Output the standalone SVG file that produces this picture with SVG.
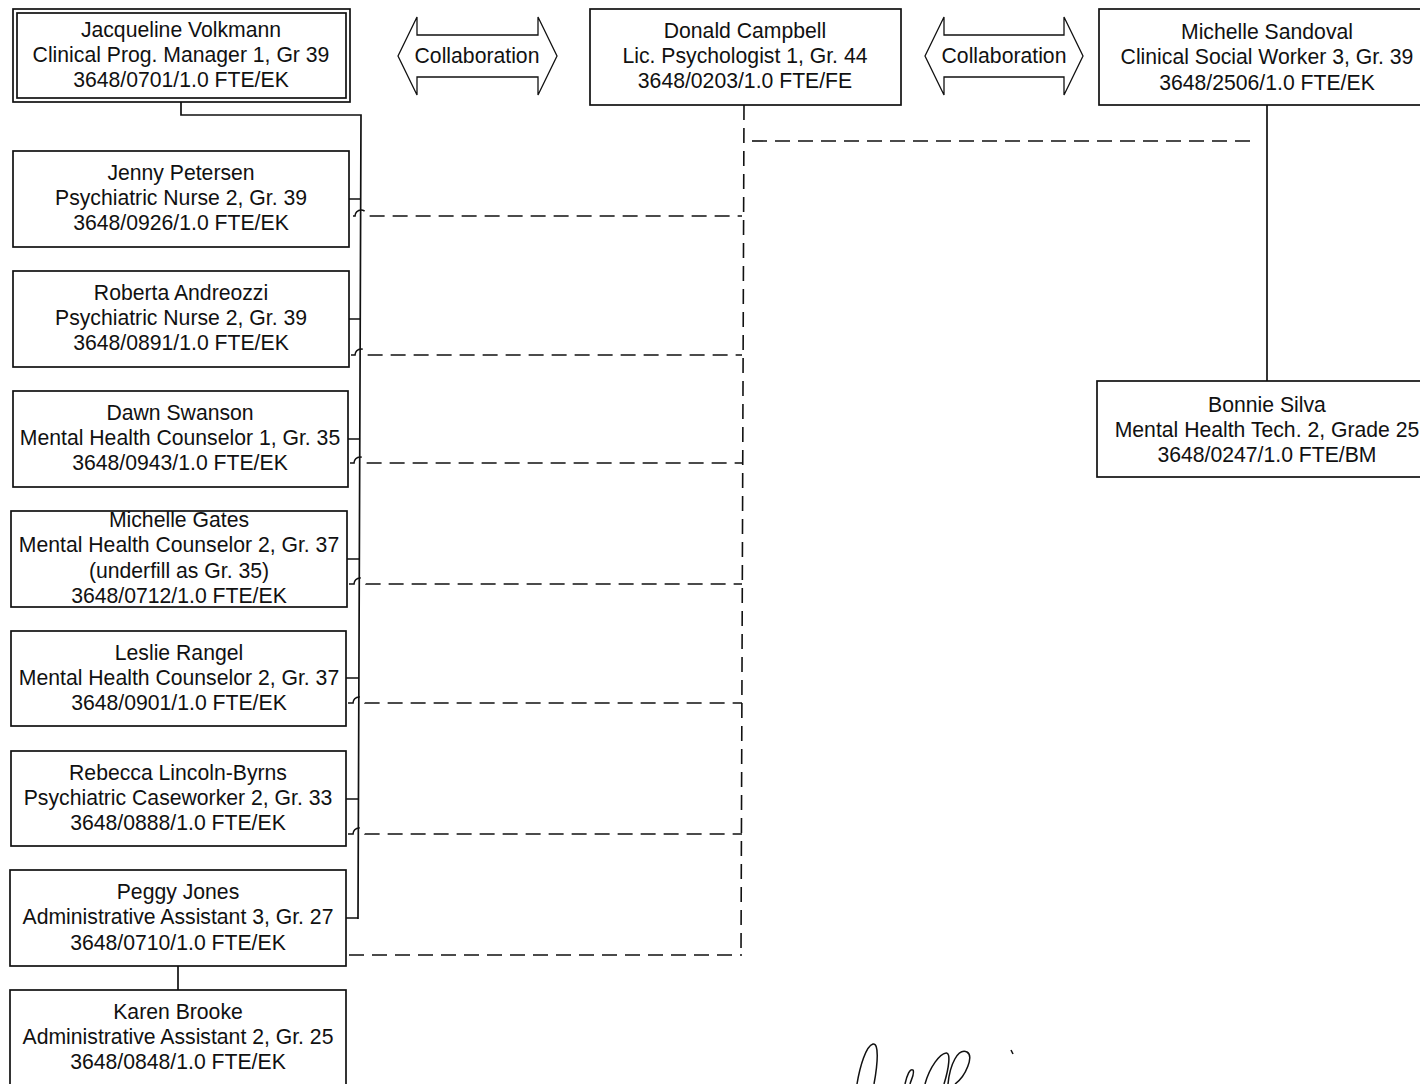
<svg xmlns="http://www.w3.org/2000/svg" width="1420" height="1084" viewBox="0 0 1420 1084">
<style>
.box{fill:#fff;stroke:#111;stroke-width:1.7}
.ln{fill:none;stroke:#111;stroke-width:1.7}
.dash{fill:none;stroke:#111;stroke-width:1.6;stroke-dasharray:15 8}
.arr{fill:#fff;stroke:#111;stroke-width:1.3}
text{font-family:"Liberation Sans",Arial,sans-serif;font-size:21.2px;text-anchor:middle;fill:#111}
.sig{fill:none;stroke:#111;stroke-width:1.5}
</style>
<rect width="1420" height="1084" fill="#fff"/>
<g id="connectors">
<path class="ln" d="M181,102 V115 H361 L358,919"/>
<path class="ln" d="M349,199 H361 M349,319 H361 M348,439 H360 M347,559 H360 M346,678 H359 M346,799 H359 M346,918 H358"/>
<path class="ln" d="M1267,105 V381"/>
<path class="ln" d="M178,966 V990"/>
<path class="dash" d="M744,105 L741,955"/>
<path class="dash" d="M752,141 H1258"/>
<path class="dash" d="M353,216 H355 A6,6 0 0 1 367,216 H742"/>
<path class="dash" d="M351,355 H355 A6,6 0 0 1 367,355 H742"/>
<path class="dash" d="M350,463 H354 A6,6 0 0 1 366,463 H742"/>
<path class="dash" d="M349,584 H354 A6,6 0 0 1 366,584 H742"/>
<path class="dash" d="M348,703 H353 A6,6 0 0 1 365,703 H742"/>
<path class="dash" d="M348,834 H353 A6,6 0 0 1 365,834 H742"/>
<path class="dash" d="M349,955 H742"/>
</g>
<g id="collab1">
<path class="arr" d="M398,56 L417,17 L417,35 L538,35 L538,17 L557,56 L538,95 L538,77 L417,77 L417,95 Z"/>
<text x="477" y="63">Collaboration</text>
</g>
<g id="collab2">
<path class="arr" d="M925,56 L944,17 L944,35 L1064,35 L1064,17 L1083,56 L1064,95 L1064,77 L944,77 L944,95 Z"/>
<text x="1004" y="63">Collaboration</text>
</g>
<g id="volkmann">
<rect class="box" x="13" y="9" width="337" height="93"/>
<rect class="ln" x="17" y="13" width="329" height="85"/>
<text x="181" y="37">Jacqueline Volkmann</text>
<text x="181" y="62">Clinical Prog. Manager 1, Gr 39</text>
<text x="181" y="87">3648/0701/1.0 FTE/EK</text>
</g>
<g id="campbell">
<rect class="box" x="590" y="9" width="311" height="96"/>
<text x="745" y="38">Donald Campbell</text>
<text x="745" y="63">Lic. Psychologist 1, Gr. 44</text>
<text x="745" y="88">3648/0203/1.0 FTE/FE</text>
</g>
<g id="sandoval">
<rect class="box" x="1099" y="9" width="330" height="96"/>
<text x="1267" y="39">Michelle Sandoval</text>
<text x="1267" y="64">Clinical Social Worker 3, Gr. 39</text>
<text x="1267" y="90">3648/2506/1.0 FTE/EK</text>
</g>
<g id="silva">
<rect class="box" x="1097" y="381" width="332" height="96"/>
<text x="1267" y="412">Bonnie Silva</text>
<text x="1267" y="437">Mental Health Tech. 2, Grade 25</text>
<text x="1267" y="462">3648/0247/1.0 FTE/BM</text>
</g>
<g id="petersen">
<rect class="box" x="13" y="151" width="336" height="96"/>
<text x="181" y="180">Jenny Petersen</text>
<text x="181" y="205">Psychiatric Nurse 2, Gr. 39</text>
<text x="181" y="230">3648/0926/1.0 FTE/EK</text>
</g>
<g id="andreozzi">
<rect class="box" x="13" y="271" width="336" height="96"/>
<text x="181" y="300">Roberta Andreozzi</text>
<text x="181" y="325">Psychiatric Nurse 2, Gr. 39</text>
<text x="181" y="350">3648/0891/1.0 FTE/EK</text>
</g>
<g id="swanson">
<rect class="box" x="13" y="391" width="335" height="96"/>
<text x="180" y="420">Dawn Swanson</text>
<text x="180" y="445">Mental Health Counselor 1, Gr. 35</text>
<text x="180" y="470">3648/0943/1.0 FTE/EK</text>
</g>
<g id="gates">
<rect class="box" x="11" y="511" width="336" height="96"/>
<text x="179" y="527">Michelle Gates</text>
<text x="179" y="552">Mental Health Counselor 2, Gr. 37</text>
<text x="179" y="578">(underfill as Gr. 35)</text>
<text x="179" y="603">3648/0712/1.0 FTE/EK</text>
</g>
<g id="rangel">
<rect class="box" x="11" y="631" width="335" height="95"/>
<text x="179" y="660">Leslie Rangel</text>
<text x="179" y="685">Mental Health Counselor 2, Gr. 37</text>
<text x="179" y="710">3648/0901/1.0 FTE/EK</text>
</g>
<g id="lincoln-byrns">
<rect class="box" x="11" y="751" width="335" height="95"/>
<text x="178" y="780">Rebecca Lincoln-Byrns</text>
<text x="178" y="805">Psychiatric Caseworker 2, Gr. 33</text>
<text x="178" y="830">3648/0888/1.0 FTE/EK</text>
</g>
<g id="jones">
<rect class="box" x="10" y="870" width="336" height="96"/>
<text x="178" y="899">Peggy Jones</text>
<text x="178" y="924">Administrative Assistant 3, Gr. 27</text>
<text x="178" y="950">3648/0710/1.0 FTE/EK</text>
</g>
<g id="brooke">
<rect class="box" x="10" y="990" width="336" height="100"/>
<text x="178" y="1019">Karen Brooke</text>
<text x="178" y="1044">Administrative Assistant 2, Gr. 25</text>
<text x="178" y="1069">3648/0848/1.0 FTE/EK</text>
</g>
<g id="signature">
<path class="sig" d="M857,1084 C860,1066 866,1046 873,1044 C879,1043 878,1062 874,1084"/>
<path class="sig" d="M905,1084 C907,1075 910,1068 913,1070 C915,1073 911,1080 910,1084"/>
<path class="sig" d="M925,1084 C930,1066 940,1054 946,1053 C951,1052 949,1068 944,1084"/>
<path class="sig" d="M948,1084 C950,1064 958,1048 967,1052 C974,1056 966,1076 955,1084"/>
<path class="sig" d="M1011,1050 L1013,1054"/>
</g>
</svg>
